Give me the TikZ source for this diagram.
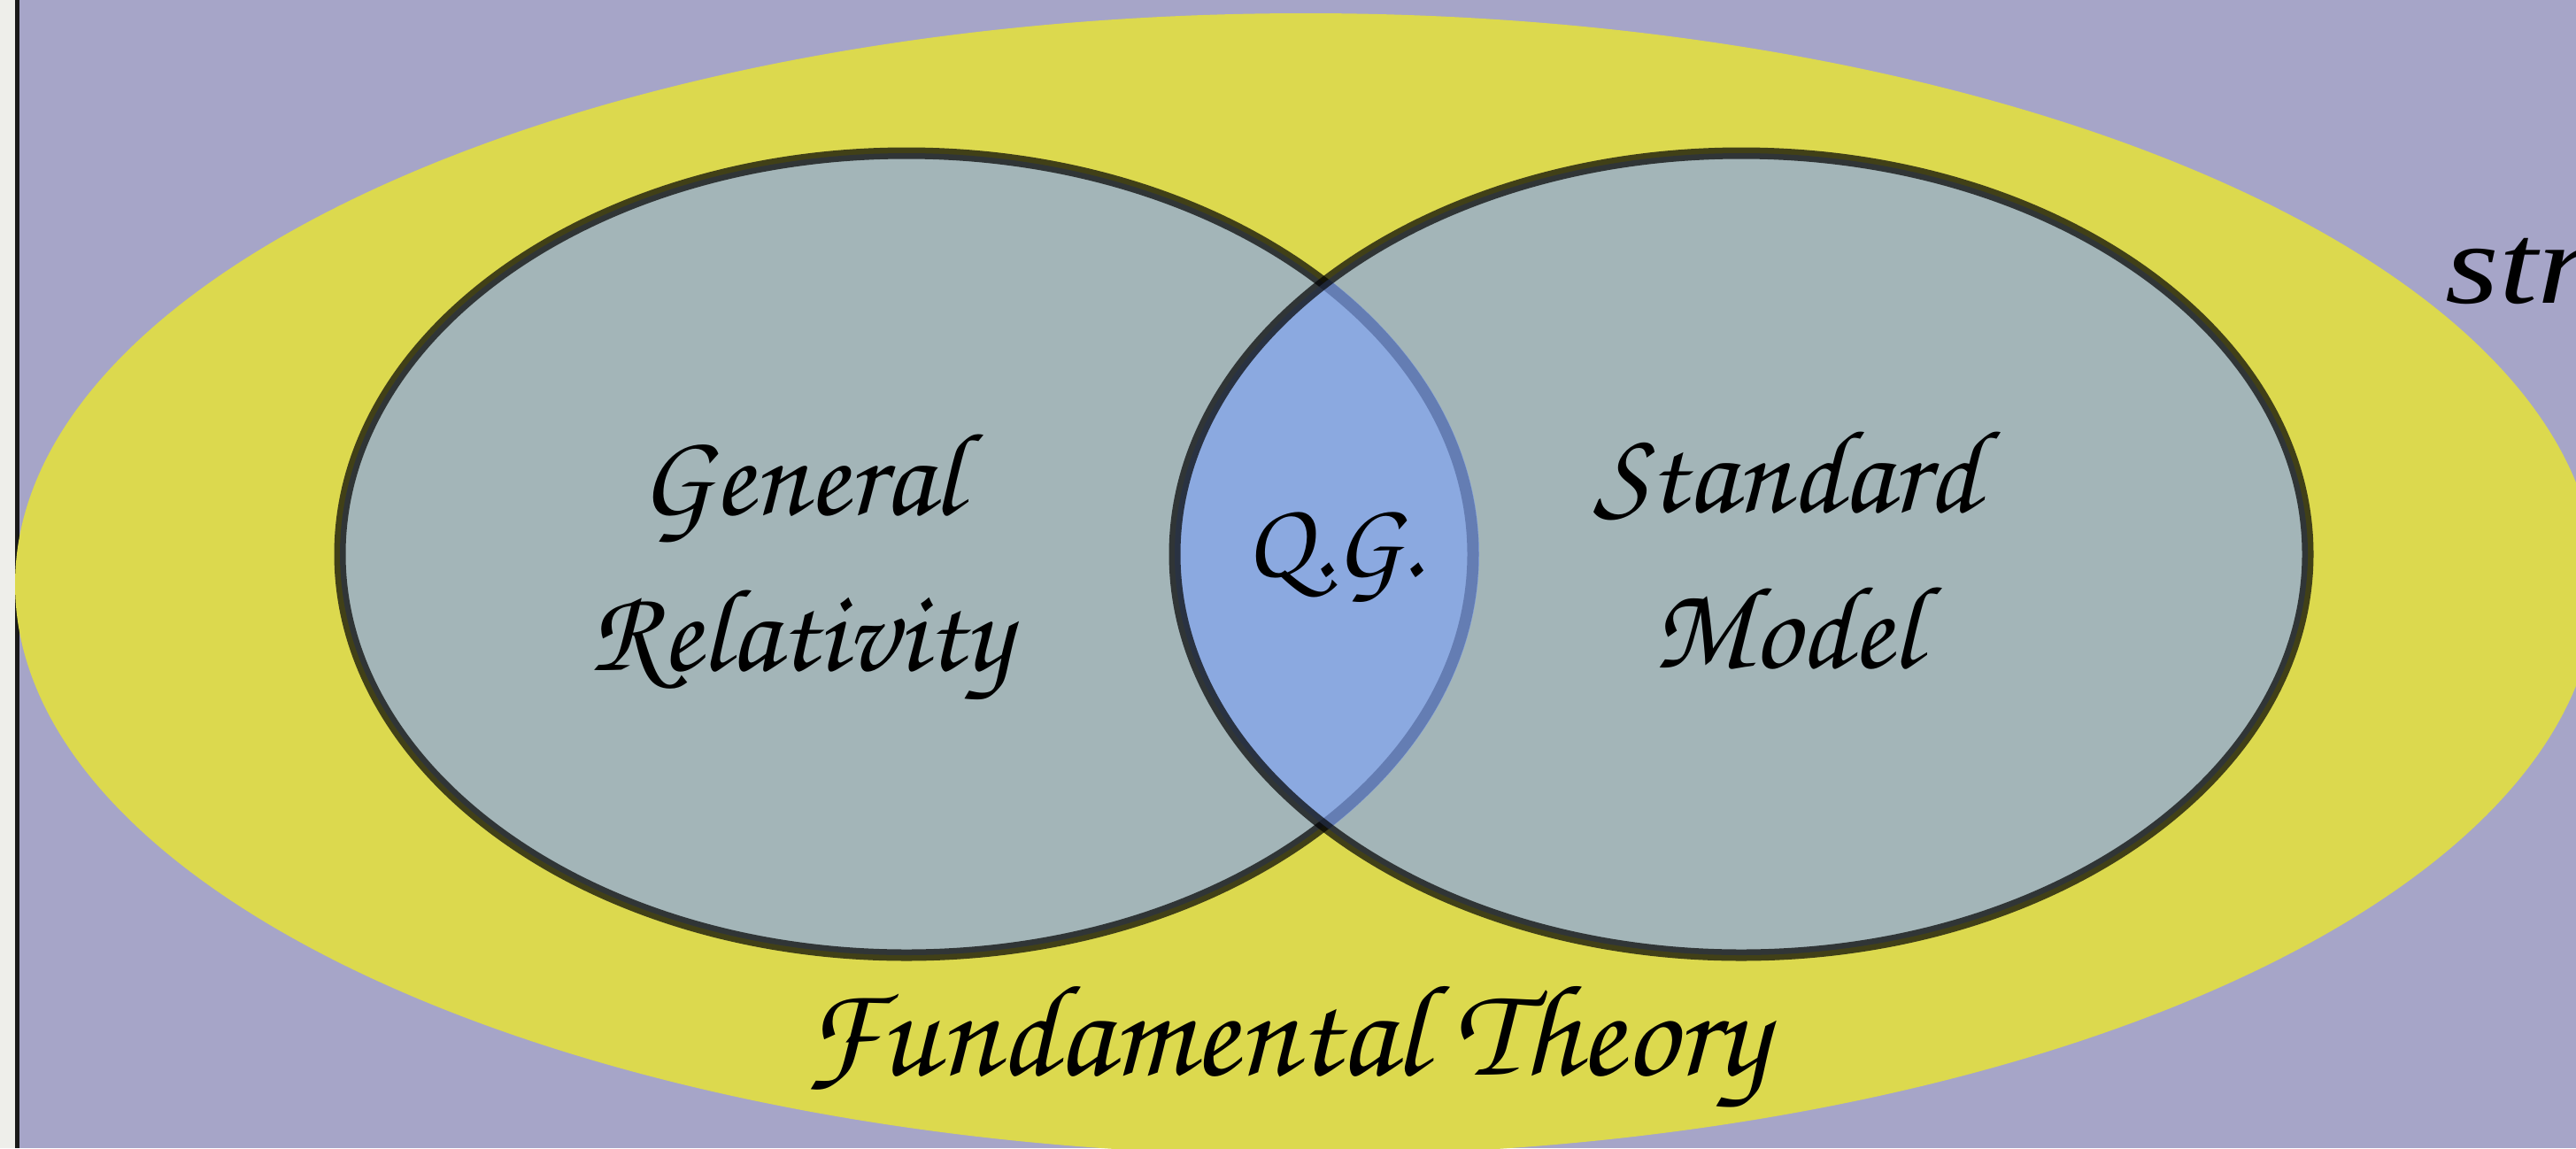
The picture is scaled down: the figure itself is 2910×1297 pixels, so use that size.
\documentclass[tikz,border=0pt]{standalone}
\usepackage{graphicx}
\usepackage[T1]{fontenc}
\usepackage{fontspec}
\newfontfamily\strfont{Liberation Serif}
\newcommand\chanc{\fontencoding{T1}\fontfamily{pzc}\fontseries{mb}\fontshape{it}\selectfont}
\definecolor{lavender}{RGB}{166,165,200}
\definecolor{fundyellow}{RGB}{220,217,78}
\definecolor{setgray}{RGB}{163,181,184}
\definecolor{lensblue}{RGB}{128,163,245}
\definecolor{stripgray}{RGB}{238,238,234}
\tikzset{
  setline/.style={draw=black, draw opacity=0.7, line width=1.3mm},
  label/.style={inner sep=0pt, anchor=base, align=center, text=black},
}
\begin{document}
\begin{tikzpicture}[x=0.1mm,y=-0.1mm]
\useasboundingbox (0,0) rectangle (2910,1297);
\clip (0,0) rectangle (2910,1297);
% background
\fill[lavender] (0,0) rectangle (2910,1297);
\fill[stripgray] (0,0) rectangle (17,1297);
\fill[black!90] (17,0) rectangle (22,1297);
% fundamental theory
\fill[fundyellow] (1475,660) ellipse [x radius=1458, y radius=645];
% two sets
\fill[setgray] (1024,626) ellipse [x radius=640, y radius=453];
\fill[setgray] (1967,626) ellipse [x radius=640, y radius=453];
\path[setline] (1024,626) ellipse [x radius=640, y radius=453];
\begin{scope}
  \clip (1967,626) ellipse [x radius=640, y radius=453];
  \fill[lensblue, fill opacity=0.66] (1024,626) ellipse [x radius=647, y radius=460];
\end{scope}
\path[setline] (1967,626) ellipse [x radius=640, y radius=453];
% labels
\node[label, font=\chanc\fontsize{38}{50}\selectfont] (gr) at (904,757) {General\\Relativity};
\node[label, font=\chanc\fontsize{38}{50}\selectfont] (sm) at (2018,754) {Standard\\Model};
\node[label, font=\chanc\fontsize{35}{40}\selectfont] (qg) at (1507,651) {Q.G.};
\node[label, font=\chanc\fontsize{42}{50}\selectfont] (ft) at (1452,1214) {Fundamental Theory};
\node[inner sep=0pt, anchor=base west, font=\strfont\itshape\fontsize{37}{40}\selectfont] (st) at (2762,342) {\scalebox{1.2}[1]{str}};
\end{tikzpicture}
\end{document}
